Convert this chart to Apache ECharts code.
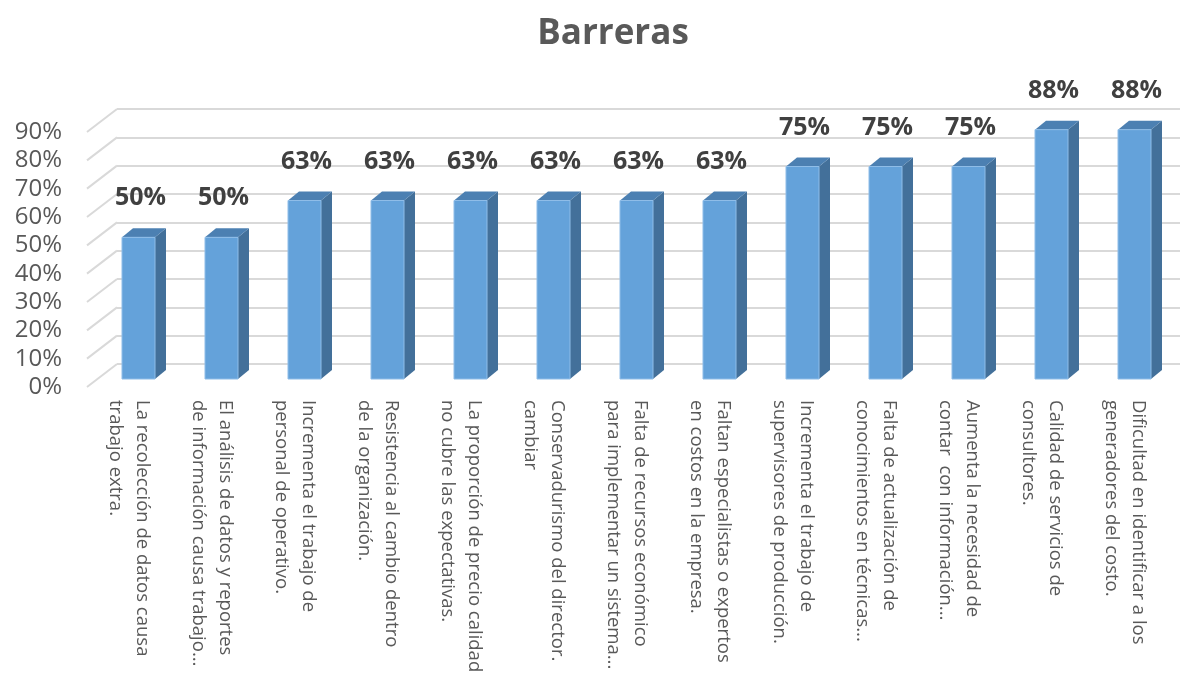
<!DOCTYPE html>
<html>
<head>
<meta charset="utf-8">
<script src="https://cdn.jsdelivr.net/npm/echarts@6/dist/echarts.min.js"></script>
<style>
  html, body { margin: 0; padding: 0; background: #ffffff; }
  #chart { width: 1180px; height: 685px; }
</style>
</head>
<body>
<div id="chart"></div>
<script>
// Barrier categories (two-line labels) and the share of respondents for each
const categories = [
  'La recolección de datos causa\ntrabajo extra.',
  'El análisis de datos y reportes\nde información causa trabajo...',
  'Incrementa el trabajo de\npersonal de operativo.',
  'Resistencia al cambio dentro\nde la organización.',
  'La proporción de precio calidad\nno cubre las expectativas.',
  'Conservadurismo del director.\ncambiar',
  'Falta de recursos económico\npara implementar un sistema...',
  'Faltan especialistas o expertos\nen costos en la empresa.',
  'Incrementa el trabajo de\nsupervisores de producción.',
  'Falta de actualización de\nconocimientos en técnicas...',
  'Aumenta la necesidad de\ncontar  con información...',
  'Calidad de servicios de\nconsultores.',
  'Dificultad en identificar a los\ngeneradores del costo.'
];
const values = [0.50, 0.50, 0.63, 0.63, 0.63, 0.63, 0.63, 0.63, 0.75, 0.75, 0.75, 0.88, 0.88];
const yTicks = [0, 0.1, 0.2, 0.3, 0.4, 0.5, 0.6, 0.7, 0.8, 0.9];

const FONT = '"Open Sans", "Liberation Sans", sans-serif';
const pct = v => Math.round(v * 100) + '%';

// Pseudo-3D geometry: back wall offset, bar placement and depth
const WALL_DX = 30, WALL_DY = -23;
const BAR_DX = 10, BAR_DY = -8;
const BAR_W = 33, DEPTH_DX = 11, DEPTH_DY = -9;

const FRONT = '#64A2DA', SIDE = '#43709A', TOP = '#4C80B2';
const GRID_COLOR = '#D9D9D9';

const chart = echarts.init(document.getElementById('chart'), null, { renderer: 'canvas' });

chart.setOption({
  animation: false,
  backgroundColor: '#ffffff',
  graphic: [{
    type: 'text', x: 613, y: 34,
    style: { text: 'Barreras', font: 'bold 35px ' + FONT, fill: '#595959',
             textAlign: 'center', textVerticalAlign: 'middle' }
  }],
  grid: [
    { left: 87, top: 132, width: 1079, height: 255 },   // front plane
    { left: 117, top: 109, right: 0, height: 255 }      // back wall
  ],
  xAxis: [
    {
      type: 'category', gridIndex: 0, data: categories,
      axisLine: { show: false }, axisTick: { show: false },
      axisLabel: { interval: 0, rotate: -90, margin: 13, fontFamily: FONT,
                   fontSize: 18.5, lineHeight: 27, color: '#595959' }
    },
    { type: 'category', gridIndex: 1, data: categories, show: false }
  ],
  yAxis: [
    {
      type: 'value', gridIndex: 0, min: 0, max: 0.9, interval: 0.1,
      splitLine: { show: false }, axisLine: { show: false }, axisTick: { show: false },
      axisLabel: { margin: 25, fontFamily: FONT, fontSize: 24, color: '#595959', formatter: pct }
    },
    {
      type: 'value', gridIndex: 1, min: 0, max: 0.9, interval: 0.1,
      axisLabel: { show: false }, axisLine: { show: false }, axisTick: { show: false },
      splitLine: { show: true, lineStyle: { color: GRID_COLOR, width: 2 } }
    }
  ],
  series: [
    {
      // floor-to-wall connectors at the left edge for each tick
      type: 'custom', xAxisIndex: 0, yAxisIndex: 0, z: 1, silent: true,
      data: yTicks.map(v => [0, v]),
      renderItem: (params, api) => {
        const left = params.coordSys.x;
        const y = api.coord([0, api.value(1)])[1];
        return {
          type: 'line',
          shape: { x1: left, y1: y, x2: left + WALL_DX, y2: y + WALL_DY },
          style: { stroke: GRID_COLOR, lineWidth: 2 }
        };
      }
    },
    {
      type: 'custom', xAxisIndex: 0, yAxisIndex: 0, z: 3,
      data: values.map((v, i) => [i, v]),
      renderItem: (params, api) => {
        const i = api.value(0), v = api.value(1);
        const base = api.coord([i, 0]);
        const top = api.coord([i, v]);
        const cx = base[0] + BAR_DX;
        const x0 = cx - BAR_W / 2, x1 = cx + BAR_W / 2;
        const yb = base[1] + BAR_DY, yt = top[1] + BAR_DY;
        return {
          type: 'group',
          children: [
            { type: 'polygon',
              shape: { points: [[x1, yt], [x1, yb], [x1 + DEPTH_DX, yb + DEPTH_DY], [x1 + DEPTH_DX, yt + DEPTH_DY]] },
              style: { fill: SIDE } },
            { type: 'polygon',
              shape: { points: [[x0, yt], [x1, yt], [x1 + DEPTH_DX, yt + DEPTH_DY], [x0 + DEPTH_DX, yt + DEPTH_DY]] },
              style: { fill: TOP } },
            { type: 'rect',
              shape: { x: x0, y: yt, width: BAR_W, height: yb - yt },
              style: { fill: FRONT, stroke: '#8FBDE8', lineWidth: 1 } },
            { type: 'text', x: cx + 2, y: yt - 39,
              style: { text: pct(v), font: 'bold 25px ' + FONT, fill: '#404040',
                       textAlign: 'center', textVerticalAlign: 'middle' } }
          ]
        };
      }
    }
  ]
});
</script>
</body>
</html>
